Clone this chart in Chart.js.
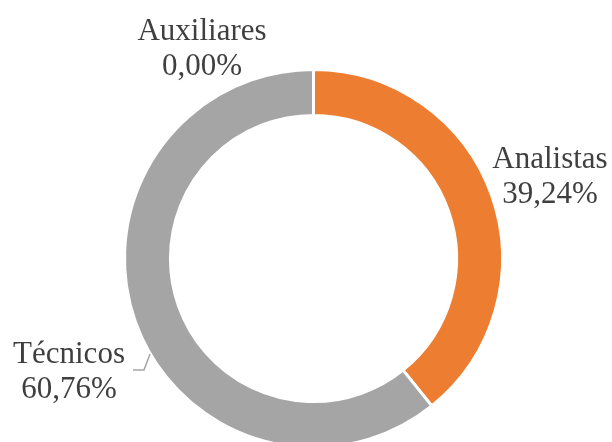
<!DOCTYPE html>
<html>
<head>
<meta charset="utf-8">
<script src="https://cdn.jsdelivr.net/npm/chart.js@4/dist/chart.umd.min.js"></script>
<style>
  html, body { margin: 0; padding: 0; background: #ffffff; overflow: hidden; }
  #wrap { width: 612px; height: 442px; overflow: hidden; position: relative; }
  canvas { display: block; }
</style>
</head>
<body>
<div id="wrap"><canvas id="c" width="612" height="517"></canvas></div>
<script>
// Share of staff by category (percent)
const categories = ['Auxiliares', 'Analistas', 'Técnicos'];
const shares = [0, 39.24, 60.76];
const colors = ['#4472C4', '#ED7D31', '#A5A5A5'];

// Label placement (centre x, first baseline y) and optional leader line
const labelSpots = [
  { x: 202, y: 40 },
  { x: 550, y: 168 },
  { x: 69, y: 363, leader: [[133, 370], [144, 370], [150, 354]] }
];

const fmtPct = v => v.toFixed(2).replace('.', ',') + '%';

const labelPlugin = {
  id: 'sliceLabels',
  afterDraw(chart) {
    const ctx = chart.ctx;
    const ds = chart.data.datasets[0];
    const total = ds.data.reduce((a, b) => a + b, 0);
    ctx.save();
    ctx.font = '31px Georgia, "Liberation Serif", "DejaVu Serif", serif';
    ctx.fillStyle = '#3f3f3f';
    ctx.textAlign = 'center';
    ctx.textBaseline = 'alphabetic';
    chart.data.labels.forEach((name, i) => {
      const spot = labelSpots[i];
      const pct = total ? ds.data[i] / total * 100 : 0;
      ctx.fillText(name, spot.x, spot.y);
      ctx.fillText(fmtPct(pct), spot.x, spot.y + 35);
      if (spot.leader) {
        ctx.beginPath();
        ctx.strokeStyle = '#A5A5A5';
        ctx.lineWidth = 1.5;
        spot.leader.forEach((p, k) => k ? ctx.lineTo(p[0], p[1]) : ctx.moveTo(p[0], p[1]));
        ctx.stroke();
      }
    });
    ctx.restore();
  }
};

new Chart(document.getElementById('c'), {
  type: 'doughnut',
  data: {
    labels: categories,
    datasets: [{
      data: shares,
      backgroundColor: colors,
      borderColor: '#ffffff',
      borderWidth: 3,
      hoverOffset: 0
    }]
  },
  options: {
    responsive: false,
    animation: false,
    radius: 189,
    cutout: '75.7%',
    layout: { padding: { left: 15, right: 0, top: 0, bottom: 0 } },
    plugins: {
      legend: { display: false },
      tooltip: { enabled: false }
    }
  },
  plugins: [labelPlugin]
});
</script>
</body>
</html>
